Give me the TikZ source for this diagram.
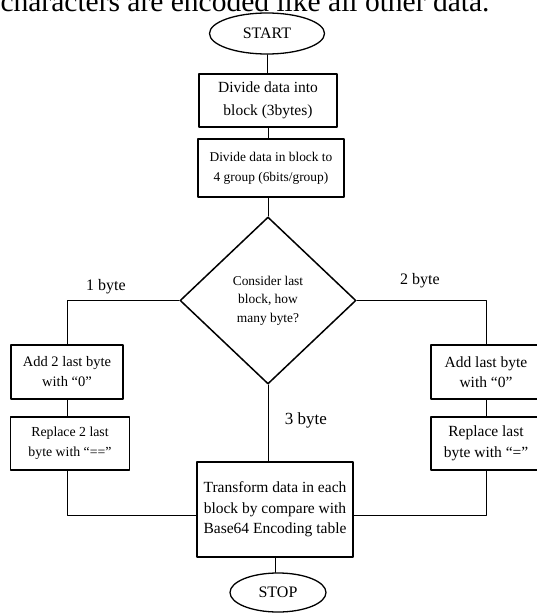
\documentclass[tikz,border=0pt]{standalone}
\usepackage{fontspec}
\setmainfont{Liberation Serif}
\usetikzlibrary{shapes.geometric}

\begin{document}
\begin{tikzpicture}[line cap=round,line join=round,x=1pt,y=-1pt,
	stepbox/.style={draw,line width=1.5pt,inner sep=0pt,align=center,font=\fontsize{15.5}{20.5}\selectfont},
	termbox/.style={draw,ellipse,line width=1.3pt,inner sep=0pt,font=\fontsize{16}{18}\selectfont},
	askbox/.style={draw,diamond,line width=1.5pt,inner sep=0pt,align=center,font=\fontsize{13.4}{18.5}\selectfont},
	wire/.style={line width=0.8pt},
	caselabel/.style={font=\fontsize{16}{18}\selectfont}]
	\useasboundingbox (0,0) rectangle (537,613);
	\clip (0,0) rectangle (537,613);
	\node (topline) at (245,11) [anchor=base,font=\fontsize{29.5}{32}\selectfont] {characters are encoded like all other data.};
	\node (start) at (267,33.5) [termbox,minimum width=115,minimum height=41] {START};
	\node (divblock) at (268,100.5) [stepbox,minimum width=138,minimum height=53,font=\fontsize{15.5}{23}\selectfont] {Divide data into\\block (3bytes)};
	\node (groups) at (271,168) [stepbox,minimum width=146,minimum height=58,font=\fontsize{13.4}{20}\selectfont] {Divide data in block to\\4 group (6bits/group)};
	\node (decide) at (268,300.5) [askbox,minimum width=176,minimum height=167] {Consider last\\block, how\\many byte?};
	\node (addtwo) at (67,372) [stepbox,minimum width=112,minimum height=54,font=\fontsize{14.5}{20}\selectfont] {Add 2 last byte\\with “0”};
	\node (repltwo) at (70,443.5) [stepbox,minimum width=119,minimum height=53,font=\fontsize{13.8}{20}\selectfont] {Replace 2 last\\byte with “==”};
	\node (addone) at (486,372) [stepbox,minimum width=110,minimum height=54] {Add last byte\\with “0”};
	\node (replone) at (486,443.5) [stepbox,minimum width=110,minimum height=53] {Replace last\\byte with “=”};
	\node (transform) at (275,509.5) [stepbox,minimum width=156,minimum height=95] {Transform data in each\\block by compare with\\Base64 Encoding table};
	\node (stop) at (278,592.5) [termbox,minimum width=96,minimum height=39] {STOP};
	\node (onebyte) at (106,287) [caselabel] {1 byte};
	\node (twobyte) at (420,281) [caselabel] {2 byte};
	\node (threebyte) at (306,420) [caselabel,font=\fontsize{17}{19}\selectfont] {3 byte};
	\draw [wire] (start.south) -- (start.south |- divblock.north);
	\draw [wire] (divblock.south) -- (divblock.south |- groups.north);
	\draw [wire] (decide.north |- groups.south) -- (decide.north);
	\draw [wire] (decide.west) -| (addtwo.north);
	\draw [wire] (decide.east) -| (addone.north);
	\draw [wire] (addtwo.south) -- (addtwo.south |- repltwo.north);
	\draw [wire] (addone.south) -- (replone.north);
	\draw [wire] (addtwo.south |- repltwo.south) |- ([yshift=-5.5pt]transform.west);
	\draw [wire] (replone.south) |- ([yshift=-5.5pt]transform.east);
	\draw [wire] (decide.south) -- (decide.south |- transform.north);
	\draw [wire] (transform.south) -- (transform.south |- stop.north);
\end{tikzpicture}
\end{document}
